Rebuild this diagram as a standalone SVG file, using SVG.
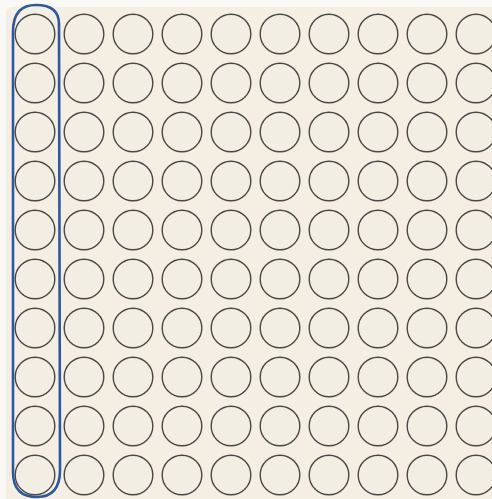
<svg xmlns="http://www.w3.org/2000/svg" width="492" height="499" viewBox="0 0 492 499">
<defs>
<style>
.c{fill:#f3eee4;stroke:#4a4844;stroke-width:1.4}
.sel{fill:none;stroke:#2b58a0;stroke-width:2.6;stroke-linejoin:round}
</style>
<circle id="d" r="19.8" class="c"/>
</defs>
<rect width="492" height="499" fill="#fbf9f5"/>
<rect x="6" y="7" width="500" height="500" rx="6" fill="#f4eee3"/>
<g id="grid">
<g id="r0"><use href="#d" x="35" y="34"/><use href="#d" x="84" y="34"/><use href="#d" x="133" y="34"/><use href="#d" x="182" y="34"/><use href="#d" x="231" y="34"/><use href="#d" x="280" y="34"/><use href="#d" x="329" y="34"/><use href="#d" x="378" y="34"/><use href="#d" x="427" y="34"/><use href="#d" x="476" y="34"/></g>
<g id="r1"><use href="#d" x="35" y="83"/><use href="#d" x="84" y="83"/><use href="#d" x="133" y="83"/><use href="#d" x="182" y="83"/><use href="#d" x="231" y="83"/><use href="#d" x="280" y="83"/><use href="#d" x="329" y="83"/><use href="#d" x="378" y="83"/><use href="#d" x="427" y="83"/><use href="#d" x="476" y="83"/></g>
<g id="r2"><use href="#d" x="35" y="132"/><use href="#d" x="84" y="132"/><use href="#d" x="133" y="132"/><use href="#d" x="182" y="132"/><use href="#d" x="231" y="132"/><use href="#d" x="280" y="132"/><use href="#d" x="329" y="132"/><use href="#d" x="378" y="132"/><use href="#d" x="427" y="132"/><use href="#d" x="476" y="132"/></g>
<g id="r3"><use href="#d" x="35" y="181"/><use href="#d" x="84" y="181"/><use href="#d" x="133" y="181"/><use href="#d" x="182" y="181"/><use href="#d" x="231" y="181"/><use href="#d" x="280" y="181"/><use href="#d" x="329" y="181"/><use href="#d" x="378" y="181"/><use href="#d" x="427" y="181"/><use href="#d" x="476" y="181"/></g>
<g id="r4"><use href="#d" x="35" y="230"/><use href="#d" x="84" y="230"/><use href="#d" x="133" y="230"/><use href="#d" x="182" y="230"/><use href="#d" x="231" y="230"/><use href="#d" x="280" y="230"/><use href="#d" x="329" y="230"/><use href="#d" x="378" y="230"/><use href="#d" x="427" y="230"/><use href="#d" x="476" y="230"/></g>
<g id="r5"><use href="#d" x="35" y="279"/><use href="#d" x="84" y="279"/><use href="#d" x="133" y="279"/><use href="#d" x="182" y="279"/><use href="#d" x="231" y="279"/><use href="#d" x="280" y="279"/><use href="#d" x="329" y="279"/><use href="#d" x="378" y="279"/><use href="#d" x="427" y="279"/><use href="#d" x="476" y="279"/></g>
<g id="r6"><use href="#d" x="35" y="328"/><use href="#d" x="84" y="328"/><use href="#d" x="133" y="328"/><use href="#d" x="182" y="328"/><use href="#d" x="231" y="328"/><use href="#d" x="280" y="328"/><use href="#d" x="329" y="328"/><use href="#d" x="378" y="328"/><use href="#d" x="427" y="328"/><use href="#d" x="476" y="328"/></g>
<g id="r7"><use href="#d" x="35" y="377"/><use href="#d" x="84" y="377"/><use href="#d" x="133" y="377"/><use href="#d" x="182" y="377"/><use href="#d" x="231" y="377"/><use href="#d" x="280" y="377"/><use href="#d" x="329" y="377"/><use href="#d" x="378" y="377"/><use href="#d" x="427" y="377"/><use href="#d" x="476" y="377"/></g>
<g id="r8"><use href="#d" x="35" y="426"/><use href="#d" x="84" y="426"/><use href="#d" x="133" y="426"/><use href="#d" x="182" y="426"/><use href="#d" x="231" y="426"/><use href="#d" x="280" y="426"/><use href="#d" x="329" y="426"/><use href="#d" x="378" y="426"/><use href="#d" x="427" y="426"/><use href="#d" x="476" y="426"/></g>
<g id="r9"><use href="#d" x="35" y="475"/><use href="#d" x="84" y="475"/><use href="#d" x="133" y="475"/><use href="#d" x="182" y="475"/><use href="#d" x="231" y="475"/><use href="#d" x="280" y="475"/><use href="#d" x="329" y="475"/><use href="#d" x="378" y="475"/><use href="#d" x="427" y="475"/><use href="#d" x="476" y="475"/></g>
</g>
<g id="selection">
<path class="sel" d="M13,32 C13,12 22,5 36,5 C50,5 59,10 59,24 L60,470 C60,490 50,497 37,497 C22,497 13,490 13,472 Z"/>
</g>
</svg>
